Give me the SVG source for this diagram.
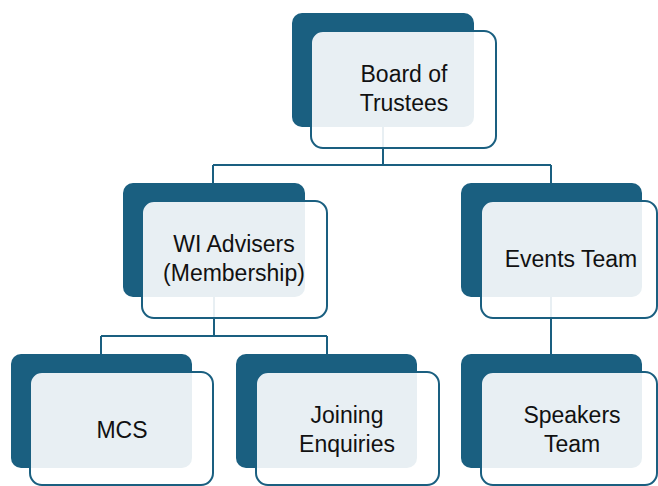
<svg xmlns="http://www.w3.org/2000/svg" width="658" height="486" viewBox="0 0 658 486">
<style>
.dark{fill:#1a5f80}
.lite{fill:#ffffff;fill-opacity:0.9;stroke:#1a5f80;stroke-width:2}
.lbl{font-family:"Liberation Sans",Arial,sans-serif;font-size:23px;fill:#111111;text-anchor:middle}
.con{fill:none;stroke:#1a5f80;stroke-width:2}
</style>
<rect width="658" height="486" fill="#ffffff"/>
<g id="connectors">
<path class="con" d="M383,127 V165 M213,165 H551 M213,165 V183 M551,165 V183"/>
<path class="con" d="M214,297 V336 M101,336 H327 M101,336 V354 M327,336 V354"/>
<path class="con" d="M551,297 V354"/>
</g>
<g id="board">
<rect class="dark" x="292" y="13" width="182" height="114" rx="10"/>
<rect class="lite" x="311" y="31" width="185" height="117" rx="12"/>
<text class="lbl" x="404" y="82">Board of</text>
<text class="lbl" x="404" y="111">Trustees</text>
</g>
<g id="wi">
<rect class="dark" x="123" y="183" width="182" height="114" rx="10"/>
<rect class="lite" x="142" y="201" width="185" height="117" rx="12"/>
<text class="lbl" x="234" y="252">WI Advisers</text>
<text class="lbl" x="234" y="281">(Membership)</text>
</g>
<g id="events">
<rect class="dark" x="461" y="183" width="181" height="114" rx="10"/>
<rect class="lite" x="481" y="201" width="176" height="117" rx="12"/>
<text class="lbl" x="571" y="267">Events Team</text>
</g>
<g id="mcs">
<rect class="dark" x="11" y="354" width="181" height="114" rx="10"/>
<rect class="lite" x="30" y="372" width="183" height="113" rx="12"/>
<text class="lbl" x="122" y="438">MCS</text>
</g>
<g id="joining">
<rect class="dark" x="236" y="354" width="181" height="114" rx="10"/>
<rect class="lite" x="256" y="372" width="183" height="113" rx="12"/>
<text class="lbl" x="347" y="423">Joining</text>
<text class="lbl" x="347" y="452">Enquiries</text>
</g>
<g id="speakers">
<rect class="dark" x="461" y="354" width="181" height="114" rx="10"/>
<rect class="lite" x="481" y="372" width="176" height="113" rx="12"/>
<text class="lbl" x="572" y="423">Speakers</text>
<text class="lbl" x="572" y="452">Team</text>
</g>
</svg>
